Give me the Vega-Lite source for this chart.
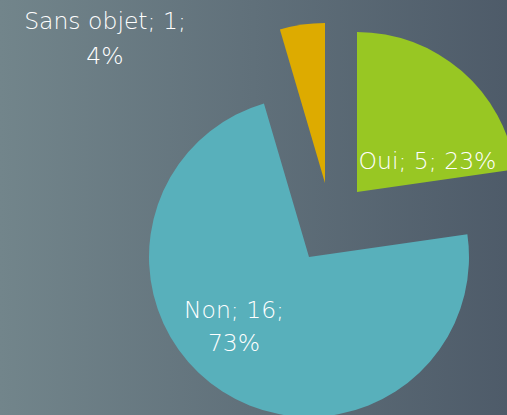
{
  "$schema": "https://vega.github.io/schema/vega-lite/v6.json",
  "width": 507,
  "height": 415,
  "padding": 0,
  "autosize": {"type": "none"},
  "background": "#627279",
  "config": {"view": {"stroke": null}},
  "data": {
    "values": [
      {"reponse": "Oui", "n": 5, "rang": 1, "etiquette": "Oui; 5; 23%"},
      {"reponse": "Non", "n": 16, "rang": 2, "etiquette": "Non; 16;\n73%"},
      {"reponse": "Sans objet", "n": 1, "rang": 3, "etiquette": "Sans objet; 1;\n4%"}
    ]
  },
  "transform": [
    {"stack": "n", "groupby": [], "sort": [{"field": "rang", "order": "ascending"}], "as": ["t0", "t1"]}
  ],
  "layer": [
    {
      "data": {"values": [{"fond": 1}]},
      "mark": {
        "type": "rect",
        "color": {
          "gradient": "linear", "x1": 0, "y1": 0, "x2": 1, "y2": 0,
          "stops": [
            {"offset": 0, "color": "#72858b"},
            {"offset": 1, "color": "#4e5b69"}
          ]
        }
      },
      "encoding": {}
    },
    {
      "transform": [{"filter": "datum.reponse === 'Oui'"}],
      "mark": {"type": "arc", "radius": 160, "xOffset": 103.5, "yOffset": -15.5},
      "encoding": {
        "theta": {"field": "t0", "type": "quantitative", "scale": {"domain": [0, 22]}},
        "theta2": {"field": "t1"},
        "color": {"field": "reponse", "type": "nominal", "scale": {"domain": ["Oui", "Non", "Sans objet"], "range": ["#98c723", "#58b0bb", "#ddab00"]}, "legend": null}
      }
    },
    {
      "transform": [{"filter": "datum.reponse === 'Non'"}],
      "mark": {"type": "arc", "radius": 160, "xOffset": 55.5, "yOffset": 49.5},
      "encoding": {
        "theta": {"field": "t0", "type": "quantitative", "scale": {"domain": [0, 22]}},
        "theta2": {"field": "t1"},
        "color": {"field": "reponse", "type": "nominal", "legend": null}
      }
    },
    {
      "transform": [{"filter": "datum.reponse === 'Sans objet'"}],
      "mark": {"type": "arc", "radius": 160, "xOffset": 71.5, "yOffset": -24.5},
      "encoding": {
        "theta": {"field": "t0", "type": "quantitative", "scale": {"domain": [0, 22]}},
        "theta2": {"field": "t1"},
        "color": {"field": "reponse", "type": "nominal", "legend": null}
      }
    },
    {
      "transform": [{"filter": "datum.reponse === 'Oui'"}],
      "mark": {"type": "text", "font": "DejaVu Sans", "fontWeight": 200, "fontSize": 23.5, "color": "white", "align": "center", "baseline": "alphabetic", "dx": 174, "dy": -39},
      "encoding": {"text": {"field": "etiquette"}}
    },
    {
      "transform": [{"filter": "datum.reponse === 'Non'"}],
      "mark": {"type": "text", "font": "DejaVu Sans", "fontWeight": 200, "fontSize": 23.5, "color": "white", "align": "center", "baseline": "alphabetic", "lineBreak": "\n", "lineHeight": 33, "dx": -19.5, "dy": 110},
      "encoding": {"text": {"field": "etiquette"}}
    },
    {
      "transform": [{"filter": "datum.reponse === 'Sans objet'"}],
      "mark": {"type": "text", "font": "DejaVu Sans", "fontWeight": 200, "fontSize": 23.5, "color": "white", "align": "center", "baseline": "alphabetic", "lineBreak": "\n", "lineHeight": 35, "dx": -148.5, "dy": -179},
      "encoding": {"text": {"field": "etiquette"}}
    }
  ]
}
